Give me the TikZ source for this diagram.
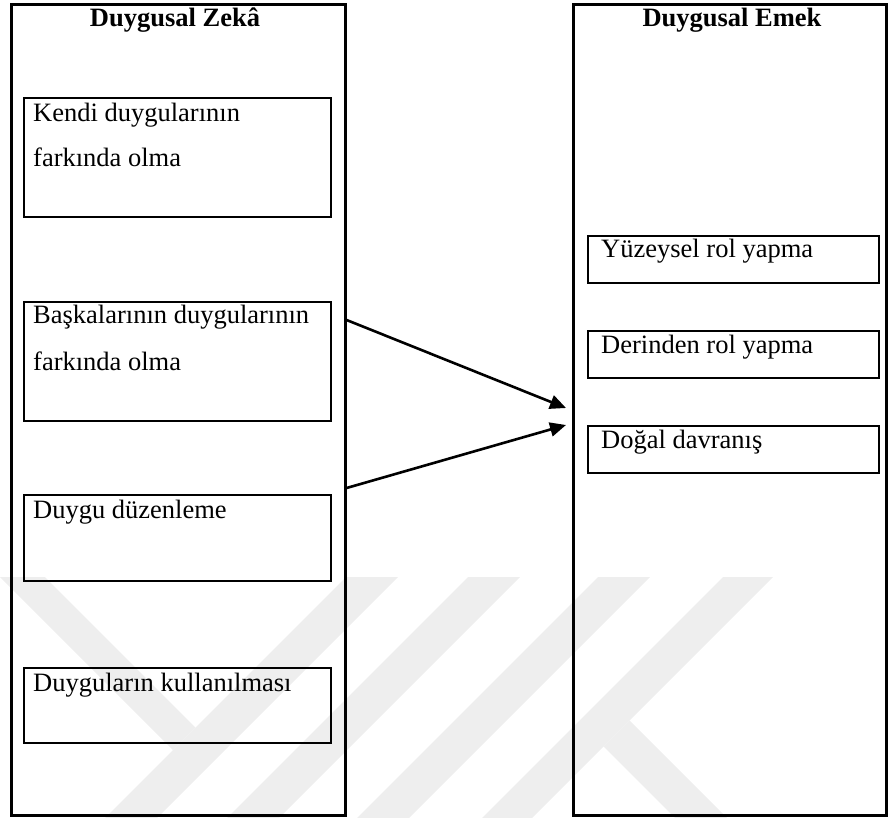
\documentclass[tikz,border=0pt]{standalone}
\usepackage{fontspec}
\setmainfont{Liberation Serif}
\usetikzlibrary{arrows.meta}
\definecolor{wmark}{HTML}{EEEEEE}
\begin{document}
\begin{tikzpicture}[x=1pt,y=-1pt,
  frame/.style={draw=black,line width=2.6pt,inner sep=0pt,anchor=north west},
  box/.style={draw=black,line width=2.3pt,inner sep=0pt,anchor=north west},
  txt/.style={anchor=base west,inner sep=0pt,font=\fontsize{26.5}{30}\selectfont},
  ttl/.style={anchor=base,inner sep=0pt,font=\fontsize{26.5}{30}\selectfont\bfseries},
  arr/.style={line width=2.6pt,-{Triangle[length=16pt,width=14pt]}},
  wm/.style={fill=wmark,draw=none}]
\useasboundingbox (0,0) rectangle (888,818);
% faint watermark
\begin{scope}
\clip (0,0) rectangle (888,818);
\fill[wm] (346,577) -- (398,577) -- (157,818) -- (105,818) -- cycle;
\fill[wm] (468,577) -- (520,577) -- (279,818) -- (227,818) -- cycle;
\fill[wm] (598,577) -- (650,577) -- (409,818) -- (357,818) -- cycle;
\fill[wm] (723,577) -- (773,577) -- (532,818) -- (482,818) -- cycle;
\fill[wm] (0,577) -- (45,577) -- (195.5,727.5) -- (173,750) -- cycle;
\fill[wm] (629.5,720.5) -- (727,818) -- (675,818) -- (603.5,746.5) -- cycle;
\end{scope}
% outer frames
\node[frame,minimum width=334pt,minimum height=811pt] (L) at (10,3) {};
\node[frame,minimum width=313pt,minimum height=811pt] (R) at (572,3) {};
\node[ttl] (tL) at (175,27) {Duygusal Zekâ};
\node[ttl] (tR) at (732,27) {Duygusal Emek};
% left boxes
\node[box,minimum width=307pt,minimum height=119pt] (b1) at (23,97) {};
\node[box,minimum width=307pt,minimum height=119pt] (b2) at (23,301) {};
\node[box,minimum width=307pt,minimum height=86pt] (b3) at (23,494) {};
\node[box,minimum width=307pt,minimum height=75pt] (b4) at (23,667) {};
\node[txt] (b1a) at (33,122) {Kendi duygularının};
\node[txt] (b1b) at (33,167) {farkında olma};
\node[txt] (b2a) at (33,323) {Başkalarının duygularının};
\node[txt] (b2b) at (33,370) {farkında olma};
\node[txt] (b3a) at (33,518) {Duygu düzenleme};
\node[txt] (b4a) at (33,691) {Duyguların kullanılması};
% right boxes
\node[box,minimum width=291pt,minimum height=47pt] (r1) at (587,235) {};
\node[box,minimum width=291pt,minimum height=47pt] (r2) at (587,330) {};
\node[box,minimum width=291pt,minimum height=47pt] (r3) at (587,425) {};
\node[txt] (r1a) at (601,258) {Yüzeysel rol yapma};
\node[txt] (r2a) at (601,353) {Derinden rol yapma};
\node[txt] (r3a) at (601,448) {Doğal davranış};
% arrows
\coordinate (s1) at (L.east |- 0,320);
\coordinate (s2) at (L.east |- 0,488);
\coordinate (e1) at (566,408);
\coordinate (e2) at (566,425);
\draw[arr] (s1) -- (e1);
\draw[arr] (s2) -- (e2);
\end{tikzpicture}
\end{document}
